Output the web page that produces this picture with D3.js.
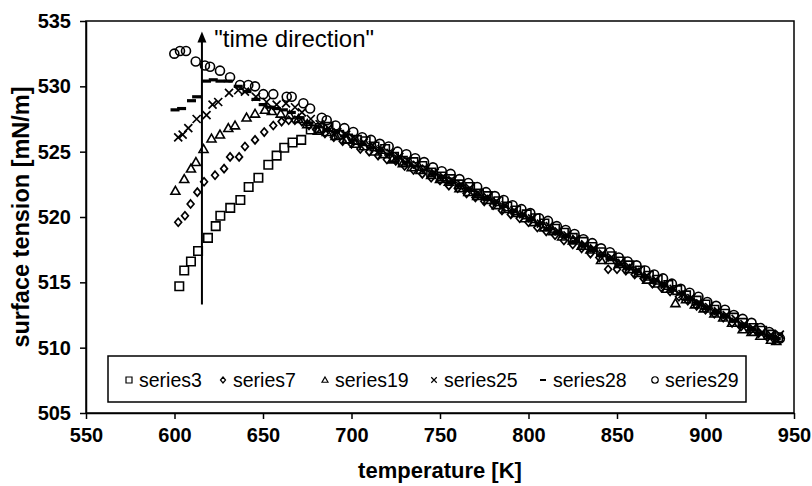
<!DOCTYPE html>
<html>
<head>
<meta charset="utf-8">
<script src="https://cdn.jsdelivr.net/npm/d3@7"></script>
<style>
  body { margin: 0; background: #fff; }
  text { font-family: "Liberation Sans", Arial, sans-serif; fill: #000; }
</style>
</head>
<body>
<div id="ChartArea"></div>
<script>
// ------------------------------------------------------------------
//  data : [temperature K, surface tension mN/m]
// ------------------------------------------------------------------
const tempTicks = [550, 600, 650, 700, 750, 800, 850, 900, 950];
const tensionTicks = [505, 510, 515, 520, 525, 530, 535];

const seriesNames = ["series3", "series7", "series19", "series25", "series28", "series29"];

const series3 = [
  [602.7,514.7],[605.5,515.9],[609.3,516.6],[613.3,517.4],[618.9,518.4],[623.3,519.3],[625.9,520.1],
  [631.5,520.7],[637.2,521.3],[641.9,522.3],[647.4,523.0],[653.0,524.0],[657.7,524.7],[662.0,525.3],
  [666.7,525.7],[671.6,525.9],[677,526.7],[682,526.8],[687,526.9],[693,526.3],[698,526.0],[703,525.9],
  [708,525.8],[713,525.4],[719,525.2],[724,524.6],[729,524.3],[735,524.2],[740,523.9],[745,523.4],
  [751,523.1],[756,522.9],[761,522.5],[767,522.3],[772,521.8],[777,521.6],[783,521.2],[788,520.8],
  [793,520.5],[799,520.2],[804,519.9],[809,519.5],[815,519.1],[820,518.8],[825,518.4],[831,518.1],
  [836,517.7],[841,517.3],[847,517.0],[852,516.6],[857,516.3],[863,515.9],[868,515.5],[873,515.2],
  [879,514.8],[884,514.4],[889,514.0],[895,513.6],[900,513.3],[905,512.9],[911,512.6],[916,512.3],
  [921,511.9],[927,511.5],[932,511.3],[937,511.0],[941,510.8]
];

const series7 = [
  [602.1,519.6],[605.9,520.1],[609.1,521.0],[612.9,521.9],[616.7,522.7],[622.9,523.2],[628.0,523.7],
  [631.4,524.6],[636.5,524.6],[639.8,525.4],[645.5,525.9],[650.7,526.5],[655.8,527.0],[660.5,527.3],
  [664.5,527.4],[668,527.4],[672,527.3],[676,527.0],[680,526.7],[685,526.4],[690,526.1],[695,525.8],
  [700,525.6],[705,525.2],[710,525.0],[715,524.7],[720,524.4],[725,524.3],[730,523.9],[735,523.6],
  [740,523.3],[745,523.0],[750,522.8],[755,522.4],[760,522.2],[765,521.8],[770,521.5],[775,521.2],
  [780,520.9],[785,520.5],[790,520.2],[795,519.9],[800,519.6],[805,519.2],[810,518.9],[815,518.6],
  [820,518.2],[825,517.9],[830,517.6],[835,517.2],[840,516.9],[845,516.0],[850,516.0],[855,515.9],
  [860,515.6],[865,515.3],[870,514.9],[875,514.6],[880,514.3],[885,513.9],[890,513.6],[895,513.2],
  [900,512.9],[905,512.6],[910,512.3],[915,511.9],[920,511.6],[925,511.3],[930,511.1],[935,510.8],
  [939,510.6]
];

const series19 = [
  [600.5,522.0],[605.5,522.9],[609.3,523.7],[612.1,524.2],[616.4,525.2],[620.9,526.0],[625.7,526.3],
  [630.4,526.8],[634.2,527.0],[640.7,527.6],[645.5,527.9],[651.1,528.2],[655,528.1],[660,527.9],
  [665,527.8],[670,527.5],[675,527.1],[681,526.6],[686,526.5],[691,526.2],[697,525.9],[702,525.6],
  [707,525.4],[713,525.0],[718,524.8],[723,524.4],[729,524.1],[734,523.8],[739,523.6],[745,523.2],
  [750,522.9],[755,522.7],[761,522.2],[766,521.9],[771,521.6],[777,521.3],[782,520.9],[787,520.6],
  [793,520.3],[798,519.9],[803,519.6],[809,519.2],[814,518.9],[819,518.5],[825,518.2],[830,517.8],
  [835,517.5],[841,516.7],[846,516.7],[851,516.4],[857,516.0],[862,515.7],[867,515.2],[873,514.9],
  [878,514.5],[883,513.4],[889,513.7],[894,513.3],[899,513.0],[905,512.6],[910,512.3],[915,511.9],
  [921,511.4],[926,511.2],[931,510.9],[937,510.6],[940,510.5]
];

const series25 = [
  [602.1,526.1],[604.6,526.3],[607.8,526.8],[612.5,527.5],[618.1,527.8],[621.5,528.6],[624.7,528.8],
  [630.8,529.5],[636.0,529.7],[639.8,529.6],[646.0,529.2],[652.0,528.8],[657.7,528.6],[663.0,528.7],
  [668.1,528.4],[672,528.0],[677,527.5],[682,527.1],[687,526.8],[692,526.5],[697,526.3],[702,526.0],
  [707,525.7],[712,525.5],[717,525.2],[722,524.9],[727,524.6],[732,524.3],[737,524.0],[742,523.7],
  [747,523.4],[752,523.1],[757,522.8],[762,522.5],[767,522.2],[772,521.8],[777,521.5],[782,521.2],
  [787,520.9],[792,520.5],[797,520.2],[802,519.9],[807,519.5],[812,519.3],[817,518.9],[822,518.6],
  [827,518.3],[832,517.9],[837,517.6],[842,517.2],[847,516.9],[852,516.5],[857,516.2],[862,515.9],
  [867,515.5],[872,515.2],[877,514.8],[882,514.5],[887,514.1],[892,513.8],[897,513.4],[902,513.1],
  [907,512.8],[912,512.5],[917,512.2],[922,511.8],[927,511.5],[932,511.2],[937,511.0],[942,511.0]
];

const series28 = [
  [600.3,528.2],[604.0,528.3],[609.6,528.9],[612.5,529.2],[618.1,530.4],[621.9,530.5],[625.7,530.4],
  [630.4,530.4],[636.0,530.0],[641.0,529.6],[646.0,529.0],[650.1,528.6],[653.9,528.4],[657.5,528.3],
  [661.5,528.2],[666,528.0],[671,527.6],[676,527.2],[681,526.9],[686,526.7],[691,526.5],[696,526.2],
  [701,525.9],[706,525.6],[711,525.3],[716,525.1],[721,524.8],[726,524.5],[731,524.2],[736,523.9],
  [741,523.6],[746,523.3],[751,523.0],[756,522.7],[761,522.4],[766,522.1],[771,521.7],[776,521.4],
  [781,521.1],[786,520.8],[791,520.4],[796,520.1],[801,519.8],[806,519.5],[811,519.1],[816,518.8],
  [821,518.5],[826,518.1],[831,517.8],[836,517.5],[841,517.1],[846,516.8],[851,516.4],[856,516.1],
  [861,515.8],[866,515.4],[871,515.1],[876,514.8],[881,514.4],[886,514.1],[891,513.7],[896,513.4],
  [901,513.0],[906,512.7],[911,512.4],[916,512.1],[921,511.7],[926,511.4],[931,511.1],[936,510.9],
  [940,510.7]
];

const series29 = [
  [599.9,532.5],[603.1,532.7],[606.5,532.7],[612.0,531.9],[617.2,531.6],[620.1,531.5],[625.7,531.2],
  [631.4,530.7],[637.0,530.1],[641.7,530.1],[645.5,530.0],[650.2,529.4],[655.8,529.4],[663.4,529.2],
  [666.2,529.2],[672.8,528.7],[676.6,528.3],[683.2,527.6],[686.0,527.4],[691,527.0],[696,526.8],
  [701,526.5],[706,526.1],[711,525.9],[716,525.6],[721,525.4],[726,525.0],[731,524.8],[736,524.5],
  [741,524.2],[746,523.8],[751,523.5],[756,523.3],[761,522.9],[766,522.6],[771,522.3],[776,521.9],
  [781,521.6],[786,521.3],[791,520.9],[796,520.6],[801,520.3],[806,519.9],[811,519.7],[816,519.3],
  [821,519.0],[826,518.7],[831,518.3],[836,518.0],[841,517.6],[846,517.3],[851,516.9],[856,516.6],
  [861,516.3],[866,515.9],[871,515.6],[876,515.3],[881,514.9],[886,514.5],[891,514.2],[896,513.9],
  [901,513.5],[906,513.2],[911,512.9],[916,512.5],[921,512.2],[926,511.9],[931,511.5],[936,511.2],
  [942,510.7]
];

// "time direction" arrow : temperature, from, to
const arrowT = 615.5, arrowFrom = 513.3, arrowTo = 534.2;
const arrowLabel = "\"time direction\"";
const arrowLabelAt = [622.5, 533.0];

// ------------------------------------------------------------------
//  marker shapes (Excel like)
// ------------------------------------------------------------------
const shapeSquare = { draw(c, s) { const r = s / 2; c.moveTo(-r, -r); c.lineTo(r, -r); c.lineTo(r, r); c.lineTo(-r, r); c.closePath(); } };
const shapeDiamond = { draw(c, s) { const r = s / 2; c.moveTo(0, -r); c.lineTo(r * 0.85, 0); c.lineTo(0, r); c.lineTo(-r * 0.85, 0); c.closePath(); } };
const shapeTriangle = { draw(c, s) { const r = s / 2; c.moveTo(0, -r); c.lineTo(r, r * 0.75); c.lineTo(-r, r * 0.75); c.closePath(); } };
const shapeCross = { draw(c, s) { const r = s / 2; c.moveTo(-r, -r); c.lineTo(r, r); c.moveTo(r, -r); c.lineTo(-r, r); } };
const shapeDash = { draw(c, s) { const r = s / 2; c.moveTo(-r, 0); c.lineTo(r, 0); } };
const shapeCircle = { draw(c, s) { const r = s / 2; c.moveTo(r, 0); c.arc(0, 0, r, 0, 2 * Math.PI); } };

const seriesData = [series3, series7, series19, series25, series28, series29];
const seriesShape = [shapeSquare, shapeDiamond, shapeTriangle, shapeCross, shapeDash, shapeCircle];
const seriesStroke = [1.6, 1.7, 1.6, 1.7, 3.2, 1.6];
const seriesSize = [8.5, 8, 9, 8, 9, 9];

// ------------------------------------------------------------------
const margin = {top: 21, right: 18, bottom: 73, left: 86};
const width = 812 - margin.left - margin.right;
const height = 486 - margin.top - margin.bottom;

const x = d3.scaleLinear().domain([550, 950]).range([0, width]);
const y = d3.scaleLinear().domain([505, 535]).range([height, 0]);

const root = d3.select("#ChartArea").append("svg")
    .attr("width", 812)
    .attr("height", 486);

const svg = root.append("g")
    .attr("transform", "translate(" + margin.left + "," + margin.top + ")");

// plot area frame
svg.append("rect")
  .attr("x", 0).attr("y", 0)
  .attr("width", width).attr("height", height)
  .attr("fill", "none")
  .attr("stroke", "#000")
  .attr("stroke-width", 1.5);

// axes
const xAxis = svg.append("g")
  .attr("transform", "translate(0," + height + ")")
  .call(d3.axisBottom(x).tickValues(tempTicks).tickSize(6).tickSizeOuter(0).tickPadding(9));

const yAxis = svg.append("g")
  .call(d3.axisLeft(y).tickValues(tensionTicks).tickSize(6).tickSizeOuter(0).tickPadding(9));

[xAxis, yAxis].forEach(function(a) {
  a.select(".domain").attr("stroke", "#000").attr("stroke-width", 1.5);
  a.selectAll(".tick line").attr("stroke", "#000").attr("stroke-width", 1.5);
  a.selectAll(".tick text")
    .style("font-family", "'Liberation Sans', Arial, sans-serif")
    .style("font-size", "20px")
    .style("font-weight", "bold")
    .attr("fill", "#000");
});

// axis titles
root.append("text")
  .attr("x", margin.left + width / 2)
  .attr("y", 478)
  .attr("text-anchor", "middle")
  .style("font-size", "22px")
  .style("font-weight", "bold")
  .text("temperature [K]");

root.append("text")
  .attr("transform", "translate(29," + (margin.top + height / 2) + ") rotate(-90)")
  .attr("text-anchor", "middle")
  .style("font-size", "23.5px")
  .style("font-weight", "bold")
  .text("surface tension [mN/m]");

// time direction arrow
svg.append("line")
  .attr("x1", x(arrowT)).attr("x2", x(arrowT))
  .attr("y1", y(arrowFrom)).attr("y2", y(arrowTo) + 8)
  .attr("stroke", "#000")
  .attr("stroke-width", 2);

svg.append("path")
  .attr("d", "M" + x(arrowT) + "," + y(arrowTo) +
             "L" + (x(arrowT) + 4.5) + "," + (y(arrowTo) + 11) +
             "L" + (x(arrowT) - 4.5) + "," + (y(arrowTo) + 11) + "Z")
  .attr("fill", "#000");

svg.append("text")
  .attr("x", x(arrowLabelAt[0]))
  .attr("y", y(arrowLabelAt[1]))
  .style("font-size", "24px")
  .text(arrowLabel);

// points
seriesData.forEach(function(data, i) {
  const sym = d3.symbol().type(seriesShape[i]).size(seriesSize[i]);
  svg.append("g")
    .selectAll("path")
    .data(data)
    .enter().append("path")
    .attr("transform", function(d) { return "translate(" + x(d[0]) + "," + y(d[1]) + ")"; })
    .attr("d", sym)
    .attr("fill", "none")
    .attr("stroke", "#000")
    .attr("stroke-width", seriesStroke[i]);
});

// legend
const legend = root.append("g");
legend.append("rect")
  .attr("x", 108).attr("y", 356)
  .attr("width", 638).attr("height", 46)
  .attr("fill", "#fff")
  .attr("stroke", "#000")
  .attr("stroke-width", 1.5);

const legendMarkX = [129, 223, 325, 434, 543, 655];
const legendSize = [6, 6, 6, 5.5, 6, 6.5];
seriesNames.forEach(function(name, i) {
  const sym = d3.symbol().type(seriesShape[i]).size(legendSize[i]);
  legend.append("path")
    .attr("transform", "translate(" + legendMarkX[i] + ",380)")
    .attr("d", sym)
    .attr("fill", "none")
    .attr("stroke", "#000")
    .attr("stroke-width", i === 4 ? 2 : 1.2);
  legend.append("text")
    .attr("x", legendMarkX[i] + 10)
    .attr("y", 387)
    .style("font-size", "19.5px")
    .text(name);
});
</script>
</body>
</html>
